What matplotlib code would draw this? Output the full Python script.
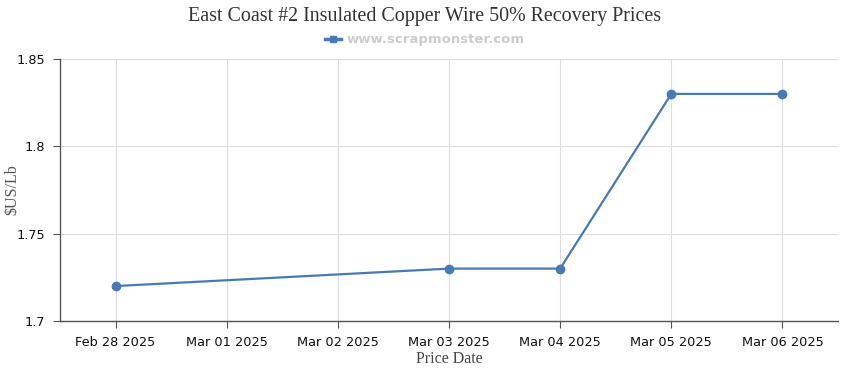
import numpy as np
import matplotlib.pyplot as plt
import matplotlib.dates as mdates
from matplotlib.lines import Line2D
from datetime import datetime, timedelta

dates = ['2025-02-28', '2025-03-03', '2025-03-04', '2025-03-05', '2025-03-06']
prices = [1.72, 1.73, 1.73, 1.83, 1.83]
tick_days = ['2025-02-28', '2025-03-01', '2025-03-02', '2025-03-03',
             '2025-03-04', '2025-03-05', '2025-03-06']
y_ticks = [1.7, 1.75, 1.8, 1.85]
y_labels = ['1.7', '1.75', '1.8', '1.85']

col = '#4a7ab5'

x = [datetime.strptime(d, '%Y-%m-%d') for d in dates]
xt = [datetime.strptime(d, '%Y-%m-%d') for d in tick_days]

fig = plt.figure(figsize=(8.5, 3.7), dpi=100)
ax = fig.add_axes([60/850, 1 - 321/370, (838-60)/850, (321-59)/370])

ax.plot(x, prices, color=col, lw=1.6, marker='o', ms=6, zorder=3, clip_on=False)

ax.set_xlim(xt[0] - timedelta(hours=12), xt[-1] + timedelta(hours=12))
ax.set_ylim(1.7, 1.85)
ax.set_xticks(xt)
ax.xaxis.set_major_formatter(mdates.DateFormatter('%b %d %Y'))
ax.set_yticks(y_ticks)
ax.set_yticklabels(y_labels)

ax.grid(True, color='#dddddd', lw=0.8)
ax.set_axisbelow(True)
for s in ['top', 'right']:
    ax.spines[s].set_visible(False)
for s in ['left', 'bottom']:
    ax.spines[s].set_color('#555555')
    ax.spines[s].set_linewidth(1)
ax.tick_params(colors='#555555', labelcolor='#111111', labelsize=9.3, length=5, pad=6)

ax.set_xlabel('Price Date', family='Liberation Serif', fontsize=11.5, color='#444444', labelpad=1)
ax.set_ylabel(r'\$US/Lb', family='Liberation Serif', fontsize=11.5, color='#555555')
ax.yaxis.set_label_coords(-40/778, 0.5)

fig.text(0.5, 1 - 17/370, 'East Coast #2 Insulated Copper Wire 50% Recovery Prices',
         ha='center', va='center', family='Liberation Serif', fontsize=14.4, color='#333333')

h = Line2D([], [], color=col, lw=2.5, marker='s', ms=4)
fig.legend([h], ['www.scrapmonster.com'], loc='center', bbox_to_anchor=(0.5, 1 - 40/370),
           frameon=False, handlelength=1.2, handletextpad=0.4,
           prop={'weight': 'bold', 'size': 9.5}, labelcolor='#cccccc')

fig.savefig('out.png', dpi=100)
